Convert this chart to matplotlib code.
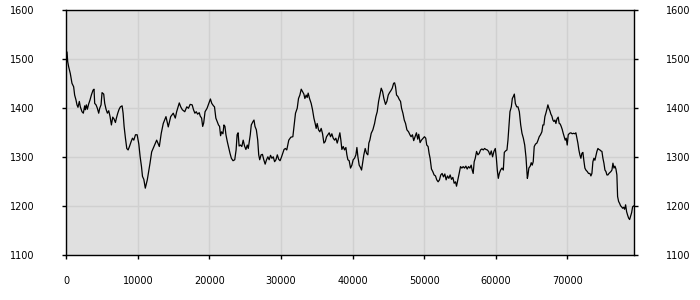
import matplotlib
matplotlib.use("Agg")
import matplotlib.pyplot as plt

# values
x_vals = [
    0, 100, 200, 327, 560, 794, 1027, 1167, 1354, 1494, 1634, 1821, 1961, 2195, 2382, 2568, 2662, 2802, 2942, 3129,
    3316, 3503, 3736, 3876, 3969, 4156, 4343, 4530, 4670, 4857, 4997, 5230, 5370, 5557, 5744, 5931, 6118, 6305, 6492, 6679,
    6866, 7005, 7192, 7379, 7566, 7800, 7939, 8079, 8266, 8453, 8640, 8827, 9060, 9247, 9434, 9668, 9901, 10134, 10321, 10508,
    10648, 10835, 11040, 11320, 11700, 11930, 12250, 12630, 13000, 13270, 13550, 13930, 14250, 14590, 14950, 15230, 15420, 15790,
    15990, 16220, 16555, 16840, 17070, 17310, 17590, 17780, 17970, 18160, 18350, 18580, 18720, 18910, 19060, 19200, 19390, 19670,
    19910, 20140, 20330, 20570, 20710, 20900, 21090, 21270, 21420, 21560, 21700, 21890, 22030, 22170, 22310, 22500, 22690, 22880,
    23070, 23300, 23540, 23730, 23870, 24010, 24150, 24340, 24530, 24720, 24910, 25100, 25290, 25430, 25570, 25710, 25850, 26090,
    26230, 26370, 26560, 26750, 26890, 27030, 27220, 27410, 27600, 27790, 27980, 28170, 28350, 28540, 28730, 28920, 29110, 29300,
    29490, 29680, 29870, 30060, 30240, 30430, 30620, 30810, 31090, 31380, 31660,
    31850, 32030, 32270, 32450, 32640, 32830, 33010, 33200, 33340, 33520, 33660, 33800, 33990, 34220, 34410, 34600, 34780, 34920,
    35060, 35250, 35430, 35620, 35810, 36000, 36180, 36370, 36560, 36740, 36930, 37110, 37300, 37490, 37670, 37860, 38050, 38230,
    38370, 38510, 38700, 38880, 39070, 39210, 39350, 39530, 39720, 39910, 40090, 40280, 40470, 40610, 40750, 40930, 41120, 41260,
    41400, 41580, 41770, 41960, 42140, 42280, 42420, 42610, 42840, 43080, 43260, 43450, 43640, 43820, 44010, 44200, 44380, 44610,
    44800, 44990, 45170, 45360, 45550, 45740, 45880, 46010, 46150, 46340, 46530, 46710, 46850, 47040, 47230, 47410, 47600, 47830,
    48020, 48180, 48370, 48550, 48740, 48930, 49110, 49250, 49440, 49630, 49860, 50050, 50230, 50370, 50560, 50700, 50840, 51030,
    51210, 51400, 51590, 51770, 51960, 52150, 52330, 52520, 52710, 52900, 53080, 53270, 53460, 53640, 53830, 54020, 54200, 54390,
    54530, 54720, 54900, 55090, 55280, 55460, 55650, 55840, 56020, 56210, 56400, 56580, 56720, 56860, 57000, 57150, 57330, 57520,
    57700, 57890, 58080, 58270, 58450, 58640, 58830, 59010, 59200, 59390, 59570, 59760, 59950, 60090, 60230, 60370, 60510, 60690,
    60880, 61070, 61210, 61390, 61580, 61720, 61860, 62000, 62190, 62330, 62470, 62610, 62750, 62940, 63120, 63310, 63500, 63680,
    63870, 64060, 64240, 64430,
    64500, 64640, 64830, 64970, 65110, 65250, 65390, 65570, 65760, 65900, 66090, 66270, 66460, 66600, 66740, 66880, 67020, 67160,
    67300, 67440, 67580, 67720, 67860, 68000, 68140, 68280, 68420, 68560, 68740, 68880, 69020, 69160, 69300, 69440, 69580, 69720,
    69860, 70000, 70140, 70330, 70510, 70700, 70890, 71070, 71210, 71350, 71490, 71630, 71770, 71910, 72050, 72190, 72330, 72470,
    72610, 72800, 72980, 73170, 73310, 73450, 73590, 73730, 73870, 74010, 74150, 74290, 74430, 74570, 74710, 74850, 74990, 75130,
    75270, 75410, 75550, 75690, 75830, 75970, 76110, 76250, 76390, 76530, 76670, 76810, 76940, 77040, 77180, 77320, 77460, 77600,
    77740, 77880, 78020, 78160, 78300, 78440, 78580, 78720, 78860, 79000, 79140, 79300, 79400,
]
y_vals = [
    1490, 1515, 1495, 1485, 1471, 1451, 1444, 1427, 1417, 1407, 1402, 1414, 1403, 1393, 1390, 1405, 1397, 1407, 1398, 1409,
    1417, 1427, 1437, 1439, 1410, 1407, 1400, 1390, 1400, 1407, 1432, 1429, 1410, 1398, 1390, 1395, 1383, 1366, 1382, 1378,
    1371, 1380, 1390, 1398, 1403, 1405, 1390, 1363, 1339, 1318, 1315, 1322, 1332, 1339, 1335, 1346, 1346, 1327, 1301, 1281,
    1261, 1255, 1237, 1254, 1288, 1311, 1322, 1335, 1322, 1349, 1369, 1383, 1362, 1383, 1390, 1380, 1393, 1411,
    1403, 1397, 1393, 1403, 1400, 1408, 1407, 1397, 1390, 1393, 1388, 1391, 1384, 1380, 1363, 1370, 1393, 1400,
    1410, 1419, 1410, 1405, 1403, 1380, 1373, 1366, 1363, 1344, 1352, 1348, 1366, 1363, 1346, 1332, 1320, 1308,
    1298, 1293, 1295, 1315, 1346, 1350, 1323, 1325, 1322, 1335, 1323, 1316, 1325, 1318, 1332, 1346, 1366, 1373,
    1376, 1363, 1356, 1335, 1305, 1295, 1305, 1306, 1295, 1286, 1295, 1301, 1295, 1304, 1298, 1301, 1291, 1295,
    1305, 1296, 1293, 1300, 1308, 1316, 1318, 1315, 1335, 1341, 1342,
    1366, 1390, 1400, 1420, 1427, 1439, 1434, 1429, 1420, 1427, 1422, 1431, 1420, 1410, 1397, 1380, 1369, 1359,
    1369, 1356, 1352, 1359, 1348, 1329, 1332, 1342, 1346, 1350, 1342, 1348, 1339, 1335, 1339, 1329, 1339, 1350,
    1335, 1316, 1322, 1315, 1320, 1305, 1295, 1293, 1278, 1284, 1295, 1298, 1305, 1320, 1301, 1284, 1279, 1274,
    1288, 1305, 1318, 1308, 1305, 1329, 1335, 1349, 1356, 1369, 1383, 1393, 1414, 1427, 1441, 1434, 1420, 1408,
    1414, 1427, 1432, 1436, 1441, 1451, 1452, 1444, 1427, 1424, 1418, 1414, 1400, 1390, 1376, 1369, 1356, 1352,
    1346, 1342, 1346, 1334, 1342, 1350, 1337, 1347, 1330, 1335, 1339, 1342, 1339, 1325, 1322, 1308, 1298, 1276,
    1271, 1264, 1262, 1254, 1250, 1254, 1264, 1267, 1260, 1266, 1254, 1262, 1257, 1264, 1255, 1259, 1247, 1250,
    1241, 1254, 1267, 1281, 1278, 1281, 1278, 1282, 1276, 1281, 1278, 1284, 1274, 1267, 1291, 1298, 1312, 1305,
    1308, 1315, 1317, 1315, 1318, 1316, 1315, 1312, 1305, 1313, 1301, 1312, 1318, 1300, 1274, 1257, 1267, 1274,
    1278, 1274, 1310, 1313, 1315, 1335, 1363, 1393, 1403, 1420, 1424, 1429, 1410, 1403, 1403, 1393, 1366, 1349,
    1339, 1325, 1300, 1257,
    1262, 1278, 1282, 1289, 1284, 1291, 1322, 1327, 1329, 1334, 1342, 1346, 1352, 1366, 1366, 1383, 1390, 1398,
    1407, 1400, 1395, 1388, 1384, 1376, 1373, 1376, 1369, 1378, 1382, 1369, 1368, 1363, 1357, 1349, 1342, 1335,
    1339, 1325, 1346, 1349, 1350, 1348, 1349, 1348, 1350, 1339, 1329, 1315, 1305, 1298, 1308, 1310, 1293, 1278,
    1274, 1271, 1267, 1267, 1262, 1267, 1291, 1298, 1294, 1303, 1312, 1318, 1316, 1315, 1313, 1312, 1298, 1288,
    1274, 1271, 1264, 1264, 1267, 1269, 1271, 1274, 1288, 1278, 1282, 1276, 1264, 1220, 1210, 1206, 1201, 1199,
    1196, 1198, 1194, 1203, 1189, 1182, 1176, 1173, 1180, 1187, 1199, 1201, 1199,
]
x_ticks = [0, 10000, 20000, 30000, 40000, 50000, 60000, 70000]
y_ticks = [1100, 1200, 1300, 1400, 1500, 1600]

fig = plt.figure(figsize=(7, 3), dpi=100)
ax = fig.add_axes([0.0947, 0.149, 0.8117, 0.8167])
ax.set_facecolor("#e0e0e0")
ax.plot(x_vals, y_vals, color="black", lw=0.9)

ax.set_xlim(0, 79400)
ax.set_ylim(1100, 1600)
ax.set_xticks(x_ticks)
ax.set_yticks(y_ticks)
ax.grid(True, color="#d0d0d0", lw=1.0)
ax.set_axisbelow(True)

for s in ax.spines.values():
    s.set_color("black")
    s.set_linewidth(1.0)

ax.tick_params(axis="both", length=3, width=1, labelsize=7, colors="black")
ax.tick_params(axis="x", pad=12)
ax.tick_params(axis="y", pad=20, left=True, right=True, labelleft=True, labelright=True)

plt.savefig("out.png", dpi=100)
